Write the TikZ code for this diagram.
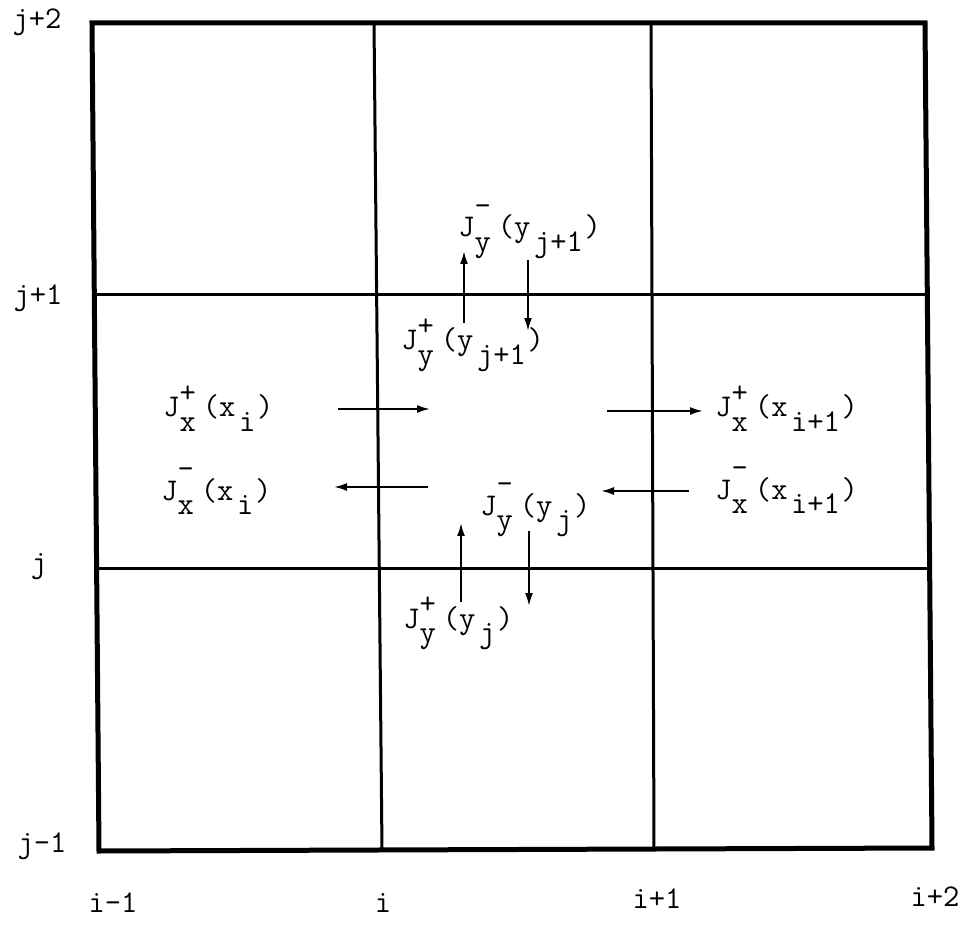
\documentclass[tikz,border=0pt]{standalone}
\usepackage{fontspec}
\usetikzlibrary{arrows.meta}
\newcommand\UpP{\raisebox{8pt}{+}}
\newcommand\UpM{\raisebox{12pt}{-}}
\newcommand\Dn[1]{\raisebox{-8pt}{#1}}
\newcommand\FluxP[3]{J\rlap{\UpP}\Dn{#1}\kern4pt(#2\kern2pt\Dn{#3}\kern1pt)}
\newcommand\FluxM[3]{J\rlap{\UpM}\Dn{#1}\kern4pt(#2\kern2pt\Dn{#3}\kern1pt)}
\begin{document}
\begin{tikzpicture}[x=0.02cm,y=-0.02cm,
  lbl/.style={inner sep=0pt,font=\fontsize{18}{21}\selectfont\ttfamily},
  flux/.style={lbl,anchor=base west},
  axl/.style={lbl,anchor=base},
  outer/.style={line width=0.1cm,line join=miter},
  inner/.style={line width=0.06cm},
  flow/.style={line width=0.04cm,-{Latex[length=0.26cm,width=0.16cm]}}]
\useasboundingbox (0,0) rectangle (966,925);
% grid corners
\coordinate (TL) at (92,23);
\coordinate (TR) at (925,23);
\coordinate (BL) at (99,851);
\coordinate (BR) at (932,848);
\coordinate (ViT) at (374,23);
\coordinate (ViB) at (382,851);
\coordinate (VkT) at (651,23);
\coordinate (VkB) at (654,850);
\coordinate (HaL) at (94,295);
\coordinate (HaR) at (927,295);
\coordinate (HbL) at (97,568);
\coordinate (HbR) at (929,568);
\draw[inner] (ViT) -- (ViB);
\draw[inner] (VkT) -- (VkB);
\draw[inner] (HaL) -- (HaR);
\draw[inner] (HbL) -- (HbR);
\draw[outer] (TL) -- (TR) -- (BR) -- (BL) -- cycle;
% axis labels
\node[axl] (jp2) at (37,29) {j+2};
\node[axl] (jp1) at (38,305) {j+1};
\node[axl] (j0) at (39,572) {j};
\node[axl] (jm1) at (42,852) {j-1};
\node[axl] (im1) at (113,912) {i-1};
\node[axl] (i0) at (383,912) {i};
\node[axl] (ip1) at (657,908) {i+1};
\node[axl] (ip2) at (935,906) {i+2};
% flux labels
\node[flux] (Jpxi) at (163,417) {\FluxP{x}{x}{i}};
\node[flux] (Jmxi) at (161,500) {\FluxM{x}{x}{i}};
\node[flux] (Jpxk) at (715,417) {\FluxP{x}{x}{i+1}};
\node[flux] (Jmxk) at (715,499) {\FluxM{x}{x}{i+1}};
\node[flux] (Jmyk) at (458,237) {\FluxM{y}{y}{j+1}};
\node[flux] (Jpyk) at (401,350) {\FluxP{y}{y}{j+1}};
\node[flux] (Jmyj) at (480,515) {\FluxM{y}{y}{j}};
\node[flux] (Jpyj) at (403,628) {\FluxP{y}{y}{j}};
% arrow ends
\coordinate (a1s) at (338,409); \coordinate (a1e) at (430,409);
\coordinate (a2s) at (428,487); \coordinate (a2e) at (334,487);
\coordinate (a3s) at (607,411); \coordinate (a3e) at (703,411);
\coordinate (a4s) at (689,491); \coordinate (a4e) at (601,491);
\coordinate (a5s) at (464,323); \coordinate (a5e) at (464,251);
\coordinate (a6s) at (528,260); \coordinate (a6e) at (528,331);
\coordinate (a7s) at (461,602); \coordinate (a7e) at (461,523);
\coordinate (a8s) at (529,531); \coordinate (a8e) at (529,606);
\draw[flow] (a1s) -- (a1e);
\draw[flow] (a2s) -- (a2e);
\draw[flow] (a3s) -- (a3e);
\draw[flow] (a4s) -- (a4e);
\draw[flow] (a5s) -- (a5e);
\draw[flow] (a6s) -- (a6e);
\draw[flow] (a7s) -- (a7e);
\draw[flow] (a8s) -- (a8e);
\end{tikzpicture}
\end{document}
